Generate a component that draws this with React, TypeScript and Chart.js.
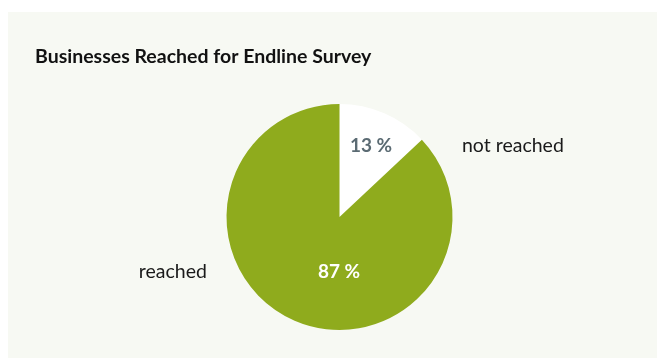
import React, { useEffect, useRef } from "react";
import { Chart, registerables } from "chart.js";

Chart.register(...registerables);

const categories = ["not reached", "reached"];
const values = [13, 87];
const titleText = "Businesses Reached for Endline Survey";

const sliceColors = ["#ffffff", "#8fab1d"];
const valueLabelColors = ["#5b6b73", "#ffffff"];
// label layout as fractions of the pie radius, relative to the pie centre
const valueLabelPos = [
  [0.279, -0.628],
  [-0.004, 0.487],
];
const nameLabelPos = [
  { fx: 1.084, fy: -0.628, align: "left" },
  { fx: -1.173, fy: 0.487, align: "right" },
];

const FONT = "Lato, 'Open Sans', sans-serif";

const labelPlugin = {
  id: "pieLabels",
  afterDatasetsDraw(chart: any) {
    const meta = chart.getDatasetMeta(0);
    const arc = meta.data[0];
    if (!arc) return;
    const cx = arc.x;
    const cy = arc.y;
    const r = arc.outerRadius;
    const ctx = chart.ctx;
    ctx.save();
    ctx.textBaseline = "middle";
    values.forEach((v, i) => {
      ctx.font = `bold 19px ${FONT}`;
      ctx.fillStyle = valueLabelColors[i];
      ctx.textAlign = "center";
      ctx.fillText(`${v} %`, cx + valueLabelPos[i][0] * r, cy + valueLabelPos[i][1] * r);
      ctx.font = `19.5px ${FONT}`;
      ctx.fillStyle = "#1a1a1a";
      ctx.textAlign = nameLabelPos[i].align;
      ctx.fillText(categories[i], cx + nameLabelPos[i].fx * r, cy + nameLabelPos[i].fy * r);
    });
    ctx.restore();
  },
};

export default function App() {
  const ref = useRef<HTMLCanvasElement>(null);
  useEffect(() => {
    if (!ref.current) return;
    const chart = new Chart(ref.current, {
      type: "pie",
      data: {
        labels: categories,
        datasets: [
          {
            data: values,
            backgroundColor: sliceColors,
            borderWidth: 0,
            hoverOffset: 0,
          },
        ],
      },
      options: {
        responsive: false,
        animation: false,
        layout: { padding: { left: 27, right: 21, top: 10, bottom: 28 } },
        plugins: {
          legend: { display: false },
          tooltip: { enabled: false },
          title: {
            display: true,
            text: titleText,
            align: "start",
            color: "#111111",
            font: { family: FONT, size: 19.5, weight: "bold" },
            padding: { top: 23.3, bottom: 35.3 },
          },
        },
      },
      plugins: [labelPlugin],
    });
    return () => chart.destroy();
  }, []);
  return (
    <div
      style={{
        marginTop: 4,
        width: 657,
        height: 346,
        background: "#f7f9f3",
      }}
    >
      <canvas ref={ref} width={657} height={346} style={{ display: "block" }} />
    </div>
  );
}
